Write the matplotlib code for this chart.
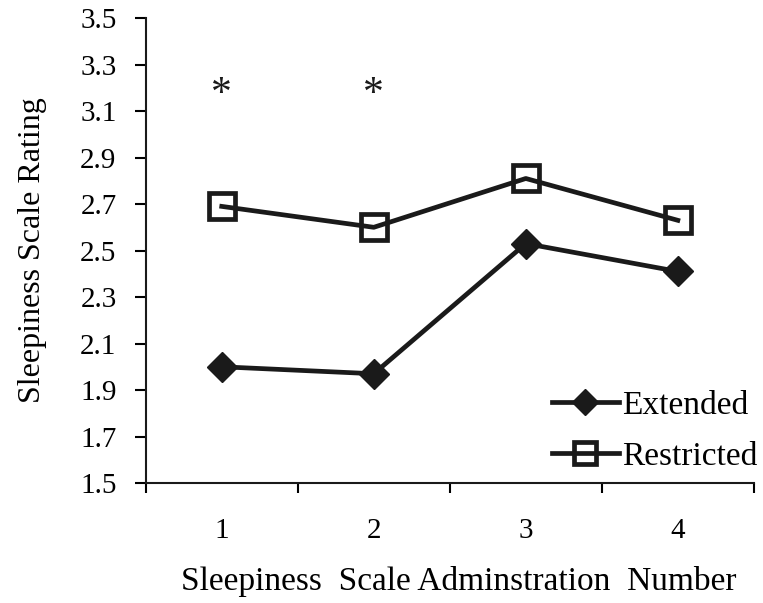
import numpy as np
import matplotlib.pyplot as plt

plt.rcParams['font.family'] = ['Liberation Serif', 'DejaVu Serif']

# данные
sessions = [1, 2, 3, 4]
extended = [2.00, 1.97, 2.53, 2.41]
restricted = [2.69, 2.60, 2.81, 2.63]
star_sessions = [1, 2]
star_level = 3.17

fig = plt.figure(figsize=(7.63, 6.03), dpi=100)
ax = fig.add_axes([0.191, 0.199, 0.797, 0.771])

ax.plot(sessions, extended, color='#1a1a1a', linewidth=3.4, marker='D',
        markersize=15, markerfacecolor='#1a1a1a', markeredgecolor='#1a1a1a',
        label='Extended')
ax.plot(sessions, restricted, color='#1a1a1a', linewidth=3.4, marker='s',
        markersize=19, markerfacecolor='none', markeredgecolor='#1a1a1a',
        markeredgewidth=3.4, label='Restricted')

for s in star_sessions:
    ax.text(s, star_level, '*', ha='center', va='center', fontsize=30,
            color='#1a1a1a')

ax.set_xlim(0.5, 4.5)
ax.set_ylim(1.5, 3.5)
ax.set_yticks(np.arange(1.5, 3.51, 0.2))
ax.set_yticklabels(['%.1f' % v for v in np.arange(1.5, 3.51, 0.2)])
# деления оси x на границах, подписи по центру
ax.set_xticks([0.5, 1.5, 2.5, 3.5, 4.5])
ax.set_xticklabels([])
ax.set_xticks(sessions, minor=True)
ax.set_xticklabels([str(s) for s in sessions], minor=True)
ax.tick_params(axis='x', which='minor', length=0, pad=25, labelsize=21)
ax.tick_params(axis='x', which='major', length=7, width=1.5, direction='out')
ax.tick_params(axis='y', length=8, width=1.5, direction='out', labelsize=21, pad=13)

for side in ['top', 'right']:
    ax.spines[side].set_visible(False)
for side in ['left', 'bottom']:
    ax.spines[side].set_linewidth(1.5)
    ax.spines[side].set_color('#1a1a1a')

ax.set_ylabel('Sleepiness Scale Rating', fontsize=23, labelpad=24)
ax.set_xlabel('Sleepiness  Scale Adminstration  Number', fontsize=24, labelpad=16,
              x=0.515)

ax.legend(loc='lower right', bbox_to_anchor=(1.055, -0.04), frameon=False,
          fontsize=24, handlelength=2.0, handletextpad=0.1, labelspacing=0.6,
          markerscale=0.85)

fig.savefig('out.png', dpi=100)
